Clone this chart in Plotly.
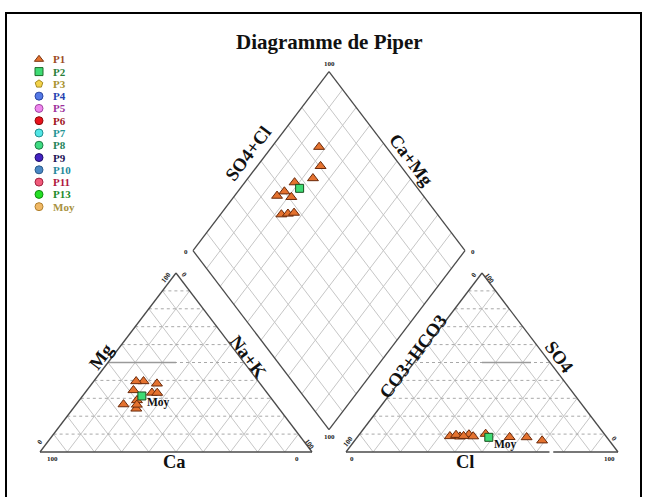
import plotly.graph_objects as go

# ---------------- data ----------------
TITLE = "Diagramme de Piper"

legend_names = ["P1", "P2", "P3", "P4", "P5", "P6", "P7", "P8", "P9", "P10", "P11", "P13", "Moy"]
legend_symbols = ["triangle-up", "square", "pentagon", "circle", "circle", "circle", "circle",
                  "circle", "circle", "circle", "circle", "circle", "circle"]
legend_fill = ["#E4722F", "#3EDB74", "#F3D24A", "#5479E6", "#EE86EE", "#E8121C", "#52E6E6",
               "#3FDB82", "#4423C2", "#4A88C4", "#F05A7A", "#25DF25", "#F0B865"]
legend_edge = ["#7A3310", "#1E6B2A", "#A48A22", "#2B45A0", "#A043A0", "#8A0A0A", "#238F8F",
               "#1F7A45", "#1E0F66", "#2A5A8A", "#A0203E", "#118A11", "#B0802E"]
legend_textcol = ["#9C4A22", "#2A7F3A", "#A8922E", "#2443B0", "#9C2F9C", "#A0141C", "#249494",
                  "#238257", "#1C1254", "#24889A", "#B0163E", "#1E8A2A", "#A8923E"]

# P1 samples (meq %)
p1_mg = [26.6, 24.2, 38.2, 39.5, 39.5, 34.5, 28.9, 26.4, 33.1, 33.0]
p1_nak = [17.4, 23.3, 23.9, 18.3, 15.6, 17.1, 21.2, 22.4, 24.6, 26.6]
p1_cl = [68.9, 62.3, 56.0, 46.3, 37.6, 40.3, 42.4, 33.8, 35.7, 38.8]
p1_so4 = [6.4, 8.2, 8.3, 10.1, 8.6, 9.8, 8.7, 8.8, 9.5, 8.9]

# P2 sample
p2_mg = [31.3]
p2_nak = [21.8]
p2_cl = [48.4]
p2_so4 = [8.2]

grid_pct = [10, 20, 30, 40, 50, 60, 70, 80, 90]

# ---------------- geometry ----------------
W, H = 645, 497
OX, OY = 40.0, 452.0
SX, SY = 2.72, 2.067
G = 12.5
HT = 86.6025


def px(xu, yu):
    return OX + SX * xu, OY - SY * yu


def cation_xy(mg, nak):
    return px(nak + mg / 2.0, mg * HT / 100.0)


def anion_xy(cl, so4):
    return px(100 + G + cl + so4 / 2.0, so4 * HT / 100.0)


BX, BY = 100 + G / 2.0, G * HT / 100.0


def diamond_u(a, c):
    return BX + 0.5 * (a - c), BY + HT / 100.0 * (a + c)


def diamond_xy(cl, so4, nak):
    a = cl + so4
    c = 100.0 - nak
    return px(*diamond_u(a, c))


def seg_trace(segs, color, width, dash="solid"):
    xs, ys = [], []
    for (x0, y0), (x1, y1) in segs:
        p0 = px(x0, y0)
        p1 = px(x1, y1)
        xs += [p0[0], p1[0], None]
        ys += [p0[1], p1[1], None]
    return go.Scatter(x=xs, y=ys, mode="lines", line=dict(color=color, width=width, dash=dash),
                      hoverinfo="skip", showlegend=False)


fig = go.Figure()

# triangle grids
slant, horiz = [], []
for off in (0.0, 100 + G):
    for k in grid_pct:
        h = k * HT / 100.0
        horiz.append(((off + k / 2.0, h), (off + 100 - k / 2.0, h)))
        slant.append(((off + k, 0), (off + k + (100 - k) / 2.0, (100 - k) * HT / 100.0)))
        slant.append(((off + 100 - k, 0), (off + (100 - k) / 2.0, (100 - k) * HT / 100.0)))
# diamond grid
for k in grid_pct:
    slant.append((diamond_u(k, 0), diamond_u(k, 100)))
    slant.append((diamond_u(0, k), diamond_u(100, k)))

fig.add_trace(seg_trace(slant, "#c6c6c6", 1))
fig.add_trace(seg_trace(horiz, "#a8a8a8", 1, "dot"))
# darker 50% segments
fig.add_trace(seg_trace([((25, HT / 2), (50, HT / 2)),
                         ((150 + G, HT / 2), (150 + G + 18, HT / 2))], "#9a9a9a", 1.6))

# outlines
outl = []
for off in (0.0, 100 + G):
    outl += [((off, 0), (off + 100, 0)), ((off + 100, 0), (off + 50, HT)), ((off + 50, HT), (off, 0))]
Db = diamond_u(0, 0); Dl = diamond_u(0, 100); Dt = diamond_u(100, 100); Dr = diamond_u(100, 0)
outl += [(Db, Dl), (Dl, Dt), (Dt, Dr), (Dr, Db)]
fig.add_trace(seg_trace(outl, "#4a4a4a", 1.3))
# small gap in anion base
fig.add_trace(seg_trace([((100 + G + 74.8, 0), (100 + G + 76.2, 0))], "white", 3))

# ---------------- data points ----------------
p1_style = dict(symbol="triangle-up", size=9.5, color="#E4722F", line=dict(color="#6A2A0C", width=1))
p2_style = dict(symbol="square", size=8, color="#3EDB74", line=dict(color="#1A4F1F", width=1))

cx, cy = zip(*[cation_xy(m, n) for m, n in zip(p1_mg, p1_nak)])
ax_, ay_ = zip(*[anion_xy(c, s) for c, s in zip(p1_cl, p1_so4)])
dx, dy = zip(*[diamond_xy(c, s, n) for c, s, n in zip(p1_cl, p1_so4, p1_nak)])
fig.add_trace(go.Scatter(x=list(cx) + list(ax_) + list(dx), y=list(cy) + list(ay_) + list(dy),
                         mode="markers", marker=p1_style, showlegend=False, name="P1"))

c2 = [cation_xy(m, n) for m, n in zip(p2_mg, p2_nak)]
a2 = [anion_xy(c, s) for c, s in zip(p2_cl, p2_so4)]
d2 = [diamond_xy(c, s, n) for c, s, n in zip(p2_cl, p2_so4, p2_nak)]
pts2 = c2 + a2 + d2
fig.add_trace(go.Scatter(x=[p[0] for p in pts2], y=[p[1] for p in pts2], mode="markers",
                         marker=p2_style, showlegend=False, name="P2"))

SERIF = "Liberation Serif, Times New Roman, serif"
ann = []
for p in (c2[0], a2[0]):
    ann.append(dict(x=p[0], y=p[1], text="<b>Moy</b>", showarrow=False, xanchor="left",
                    yanchor="middle", xshift=3, yshift=-7, font=dict(family=SERIF, size=11.5, color="#111")))

# ---------------- manual legend ----------------
leg_y0, leg_dy = 59.3, 12.28
leg_ys = [leg_y0 + i * leg_dy for i in range(len(legend_names))]
fig.add_trace(go.Scatter(x=[39] * len(legend_names), y=leg_ys, mode="markers",
                         marker=dict(symbol=legend_symbols, size=8, color=legend_fill,
                                     line=dict(color=legend_edge, width=1)),
                         hoverinfo="skip", showlegend=False))
for nm, yy, tc in zip(legend_names, leg_ys, legend_textcol):
    ann.append(dict(x=51, y=yy, text="<b>" + nm + "</b>", showarrow=False, xanchor="left",
                    yanchor="middle", font=dict(family=SERIF, size=11, color=tc)))

# ---------------- texts ----------------
ANG = 53
ann.append(dict(x=329, y=42, text="<b>" + TITLE + "</b>", showarrow=False,
                font=dict(family=SERIF, size=21, color="#111")))

titles = [("Ca", 174, 462, 0), ("Cl", 465, 462, 0),
          ("Mg", 101, 357, -ANG), ("Na+K", 248, 357, ANG),
          ("CO3+HCO3", 413, 357, -ANG), ("SO4", 559, 357, ANG),
          ("SO4+Cl", 248, 154, -ANG), ("Ca+Mg", 411, 160, ANG)]
for t, x, y, a in titles:
    ann.append(dict(x=x, y=y, text="<b>" + t + "</b>", showarrow=False, textangle=a,
                    font=dict(family=SERIF, size=18.5, color="#111")))

ticks = [("100", 329, 64, 0), ("0", 186, 252, 0), ("0", 473, 252, 0), ("100", 329, 437, 0),
         ("100", 52, 459, 0), ("0", 297, 459, 0), ("0", 40, 442, -ANG), ("100", 166, 278, -ANG),
         ("0", 184, 275, ANG), ("100", 309, 444, ANG),
         ("0", 352, 459, 0), ("100", 609, 459, 0), ("100", 348, 442, -ANG), ("0", 474, 275, -ANG),
         ("100", 489, 278, ANG), ("0", 614, 439, ANG)]
for t, x, y, a in ticks:
    ann.append(dict(x=x, y=y, text="<b>" + t + "</b>", showarrow=False, textangle=a,
                    font=dict(family=SERIF, size=7, color="#222")))

fig.update_layout(
    width=W, height=H, margin=dict(l=0, r=0, t=0, b=0),
    paper_bgcolor="white", plot_bgcolor="white",
    xaxis=dict(range=[0, W], visible=False, fixedrange=True),
    yaxis=dict(range=[H, 0], visible=False, fixedrange=True),
    annotations=ann, showlegend=False,
    shapes=[dict(type="rect", xref="x", yref="y", x0=6, y0=13, x1=641, y1=510,
                 line=dict(color="black", width=2), fillcolor="rgba(0,0,0,0)", layer="above")],
)

fig.write_html("out.html", config={"displayModeBar": False, "staticPlot": True},
               post_script="document.body.style.margin='0px';document.body.style.overflow='hidden';")
